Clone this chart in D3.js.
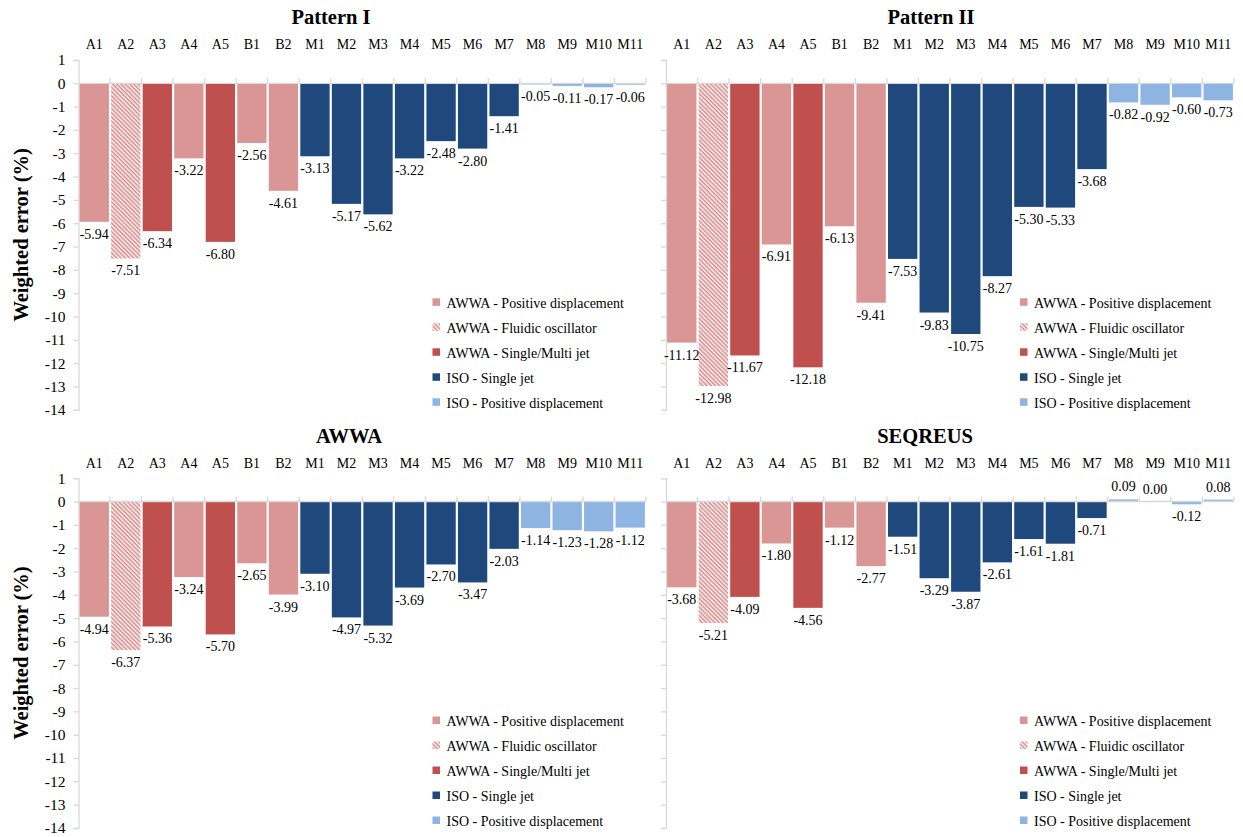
<!DOCTYPE html>
<html>
<head>
<meta charset="utf-8">
<script src="https://cdn.jsdelivr.net/npm/d3@7"></script>
<style>
  html, body { margin: 0; padding: 0; background: #fff; }
  svg { display: block; }
</style>
</head>
<body>
<svg id="chart" width="1243" height="837"></svg>
<script>
// Meter labels and the test standard / technology group of each meter
const meters = ["A1","A2","A3","A4","A5","B1","B2","M1","M2","M3","M4","M5","M6","M7","M8","M9","M10","M11"];
const meterGroup = ["awwaPD","awwaFO","awwaJet","awwaPD","awwaJet","awwaPD","awwaPD",
                    "isoJet","isoJet","isoJet","isoJet","isoJet","isoJet","isoJet",
                    "isoPD","isoPD","isoPD","isoPD"];

// Weighted error (%) per meter for each consumption pattern
const patternI   = [-5.94,-7.51,-6.34,-3.22,-6.80,-2.56,-4.61,-3.13,-5.17,-5.62,-3.22,-2.48,-2.80,-1.41,-0.05,-0.11,-0.17,-0.06];
const patternII  = [-11.12,-12.98,-11.67,-6.91,-12.18,-6.13,-9.41,-7.53,-9.83,-10.75,-8.27,-5.30,-5.33,-3.68,-0.82,-0.92,-0.60,-0.73];
const awwa       = [-4.94,-6.37,-5.36,-3.24,-5.70,-2.65,-3.99,-3.10,-4.97,-5.32,-3.69,-2.70,-3.47,-2.03,-1.14,-1.23,-1.28,-1.12];
const seqreus    = [-3.68,-5.21,-4.09,-1.80,-4.56,-1.12,-2.77,-1.51,-3.29,-3.87,-2.61,-1.61,-1.81,-0.71,0.09,0.00,-0.12,0.08];

const panelTitles = ["Pattern I", "Pattern II", "AWWA", "SEQREUS"];
const yTicks = [1,0,-1,-2,-3,-4,-5,-6,-7,-8,-9,-10,-11,-12,-13,-14];

const legendKeys   = ["awwaPD","awwaFO","awwaJet","isoJet","isoPD"];
const legendLabels = ["AWWA - Positive displacement","AWWA - Fluidic oscillator","AWWA - Single/Multi jet","ISO - Single jet","ISO - Positive displacement"];

const fills = {
  awwaPD: "#D99694",
  awwaFO: "url(#hatch)",
  awwaJet: "#C0504D",
  isoJet: "#1F497D",
  isoPD: "#8DB4E2"
};

const SERIF = '"Liberation Serif", "Times New Roman", Times, serif';
const fmtVal = d => d3.format(".2f")(d).replace("\u2212", "-");

const svg = d3.select("#chart");

// diagonal hatch (falling left to right) used for the fluidic oscillator meter
const defs = svg.append("defs");
const pat = defs.append("pattern")
  .attr("id", "hatch")
  .attr("patternUnits", "userSpaceOnUse")
  .attr("width", 3).attr("height", 3)
  .attr("patternTransform", "rotate(45)");
pat.append("rect").attr("width", 3).attr("height", 3).attr("fill", "#fff");
pat.append("rect").attr("width", 3).attr("height", 1.7).attr("fill", "#DC8E8C");

const panels = [
  { data: patternI,  title: panelTitles[0], x0: 78.5,  x1: 646,  zeroY: 83.3,  titleX: 331, showY: true },
  { data: patternII, title: panelTitles[1], x0: 666,   x1: 1234, zeroY: 83.3,  titleX: 931, showY: false },
  { data: awwa,      title: panelTitles[2], x0: 78.5,  x1: 646,  zeroY: 501.5, titleX: 349, showY: true },
  { data: seqreus,   title: panelTitles[3], x0: 666,   x1: 1234, zeroY: 501.5, titleX: 925, showY: false }
];

const unit = 23.32; // pixels per percentage point

panels.forEach(p => {
  const g = svg.append("g");

  const x = d3.scaleBand().domain(meters).range([p.x0, p.x1]).paddingInner(0.07).paddingOuter(0.035);
  const y = d3.scaleLinear().domain([1, -14]).range([p.zeroY - unit, p.zeroY + 14 * unit]);

  // title
  g.append("text")
    .attr("x", p.titleX).attr("y", p.zeroY - 59)
    .attr("text-anchor", "middle")
    .style("font-family", SERIF)
    .style("font-size", "20.5px").style("font-weight", "bold")
    .text(p.title);

  // category labels above the plot
  g.selectAll(".cat").data(meters).enter().append("text")
    .attr("x", d => x(d) + x.bandwidth() / 2)
    .attr("y", p.zeroY - 34)
    .attr("text-anchor", "middle")
    .style("font-family", SERIF)
    .style("font-size", "14px")
    .text(d => d);

  // vertical axis
  const yAxis = d3.axisLeft(y).tickValues(yTicks).tickSize(5).tickPadding(8)
    .tickFormat(d => p.showY ? String(d).replace("\u2212", "-") : "");
  const ya = g.append("g").attr("transform", `translate(${p.x0},0)`).call(yAxis);
  ya.select(".domain").attr("stroke", "#D9D9D9").attr("stroke-width", 1.3);
  ya.selectAll(".tick line").attr("stroke", "#D9D9D9").attr("stroke-width", 1.3);
  ya.selectAll(".tick text")
    .style("font-size", "15.5px")
    .style("font-family", SERIF)
    .attr("fill", "#000");

  // bars
  g.selectAll(".bar").data(p.data).enter().append("rect")
    .attr("x", (d, i) => x(meters[i]))
    .attr("width", x.bandwidth())
    .attr("y", d => d >= 0 ? y(d) : y(0))
    .attr("height", d => Math.abs(y(d) - y(0)))
    .attr("fill", (d, i) => fills[meterGroup[i]]);

  // zero line with category boundary ticks
  g.append("line")
    .attr("x1", p.x0).attr("x2", p.x1)
    .attr("y1", y(0)).attr("y2", y(0))
    .attr("stroke", "#D9D9D9").attr("stroke-width", 1.3);
  const bounds = meters.map(m => x(m) - x.step() * x.paddingInner() / 2).slice(1).concat([p.x1]);
  g.selectAll(".btick").data(bounds).enter().append("line")
    .attr("x1", d => d).attr("x2", d => d)
    .attr("y1", y(0)).attr("y2", y(0) - 5)
    .attr("stroke", "#D9D9D9").attr("stroke-width", 1.3);

  // value labels
  g.selectAll(".val").data(p.data).enter().append("text")
    .attr("x", (d, i) => x(meters[i]) + x.bandwidth() / 2)
    .attr("y", d => d >= 0 ? y(d) - 8 : y(d) + 17)
    .attr("text-anchor", "middle")
    .style("font-family", SERIF)
    .style("font-size", "14px")
    .text(fmtVal);

  // legend
  const lg = g.append("g").attr("transform", `translate(${p.x0 + 354},${p.zeroY + 220})`);
  legendKeys.forEach((k, i) => {
    lg.append("rect")
      .attr("x", 0).attr("y", i * 25 - 5)
      .attr("width", 7.5).attr("height", 7.5)
      .attr("fill", fills[k]);
    lg.append("text")
      .attr("x", 14).attr("y", i * 25 + 4.5)
      .style("font-family", SERIF)
      .style("font-size", "14px")
      .text(legendLabels[i]);
  });

  // shared y-axis title on the left column
  if (p.showY) {
    const cy = (y(1) + y(-14)) / 2;
    svg.append("text")
      .attr("transform", `translate(28,${cy}) rotate(-90)`)
      .attr("text-anchor", "middle")
      .style("font-family", SERIF)
      .style("font-size", "20.5px").style("font-weight", "bold")
      .text("Weighted error (%)");
  }
});
</script>
</body>
</html>
